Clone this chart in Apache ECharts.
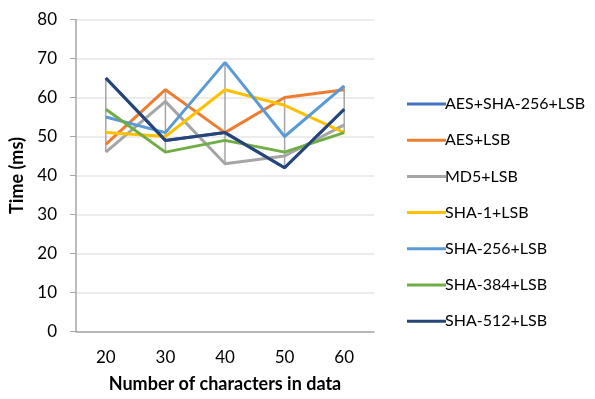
<!DOCTYPE html>
<html>
<head>
<meta charset="utf-8">
<script src="https://cdn.jsdelivr.net/npm/echarts@6/dist/echarts.min.js"></script>
<style>html,body{margin:0;padding:0;background:#fff}#c{width:595px;height:399px}</style>
</head>
<body>
<div id="c"></div>
<script>
const categories = ['20', '30', '40', '50', '60'];
const seriesNames = ['AES+SHA-256+LSB', 'AES+LSB', 'MD5+LSB', 'SHA-1+LSB', 'SHA-256+LSB', 'SHA-384+LSB', 'SHA-512+LSB'];
const aesSha256Lsb = [65, 49, 51, 42, 57];
const aesLsb = [48, 62, 51, 60, 62];
const md5Lsb = [46, 59, 43, 45, 53];
const sha1Lsb = [51, 50, 62, 58, 51];
const sha256Lsb = [55, 51, 69, 50, 63];
const sha384Lsb = [57, 46, 49, 46, 51];
const sha512Lsb = [65, 49, 51, 42, 57];
const yTicks = [0, 10, 20, 30, 40, 50, 60, 70, 80];

const allData = [aesSha256Lsb, aesLsb, md5Lsb, sha1Lsb, sha256Lsb, sha384Lsb, sha512Lsb];
const colors = ['#4472C4', '#ED7D31', '#A5A5A5', '#FFC000', '#5B9BD5', '#70AD47', '#264478'];
const font = 'Lato, "Open Sans", sans-serif';

const hiLo = categories.map((c, i) => {
  const vals = allData.map(a => a[i]);
  return [i, Math.min(...vals), Math.max(...vals)];
});

const chart = echarts.init(document.getElementById('c'), null, {renderer: 'canvas'});
const series = [{
  type: 'custom',
  name: 'hilo',
  z: 1,
  silent: true,
  renderItem: function (params, api) {
    const p1 = api.coord([api.value(0), api.value(1)]);
    const p2 = api.coord([api.value(0), api.value(2)]);
    return {type: 'line', shape: {x1: p1[0], y1: p1[1], x2: p2[0], y2: p2[1]},
      style: {stroke: '#A6A6A6', lineWidth: 1.5}};
  },
  data: hiLo
}];
seriesNames.forEach((n, k) => {
  series.push({
    type: 'line', name: n, data: allData[k], symbol: 'none', z: 2 + k,
    lineStyle: {width: 3, color: colors[k]}, itemStyle: {color: colors[k]}
  });
});

chart.setOption({
  animation: false,
  backgroundColor: '#fff',
  grid: {left: 76, right: 221, top: 19.5, bottom: 67.5},
  legend: {
    data: seriesNames,
    orient: 'vertical',
    left: 402, top: 90,
    itemWidth: 39, itemHeight: 3, itemGap: 18.2,
    icon: 'rect',
    textStyle: {fontFamily: font, fontSize: 16, color: '#000', lineHeight: 18, padding: [0, 0, 0, -6]}
  },
  xAxis: {
    type: 'category', data: categories, boundaryGap: true,
    name: 'Number of characters in data', nameLocation: 'middle', nameGap: 44,
    nameTextStyle: {fontFamily: font, fontSize: 18, fontWeight: 'bold', color: '#000'},
    axisLine: {lineStyle: {color: '#A6A6A6', width: 1.5}},
    axisTick: {show: false},
    axisLabel: {fontFamily: font, fontSize: 17, color: '#000', margin: 18},
    splitLine: {show: false}
  },
  yAxis: {
    type: 'value', min: 0, max: 80, interval: 10,
    name: 'Time (ms)', nameLocation: 'middle', nameGap: 41, nameRotate: 90,
    nameTextStyle: {fontFamily: font, fontSize: 18, fontWeight: 'bold', color: '#000'},
    axisLine: {show: true, lineStyle: {color: '#A6A6A6', width: 1.5}},
    axisTick: {show: true, length: 6, lineStyle: {color: '#A6A6A6'}},
    axisLabel: {fontFamily: font, fontSize: 17, color: '#000', margin: 19,
      formatter: v => yTicks.includes(v) ? String(v) : ''},
    splitLine: {lineStyle: {color: '#E6E6E6', width: 1.5}}
  },
  series: series
});
</script>
</body>
</html>
